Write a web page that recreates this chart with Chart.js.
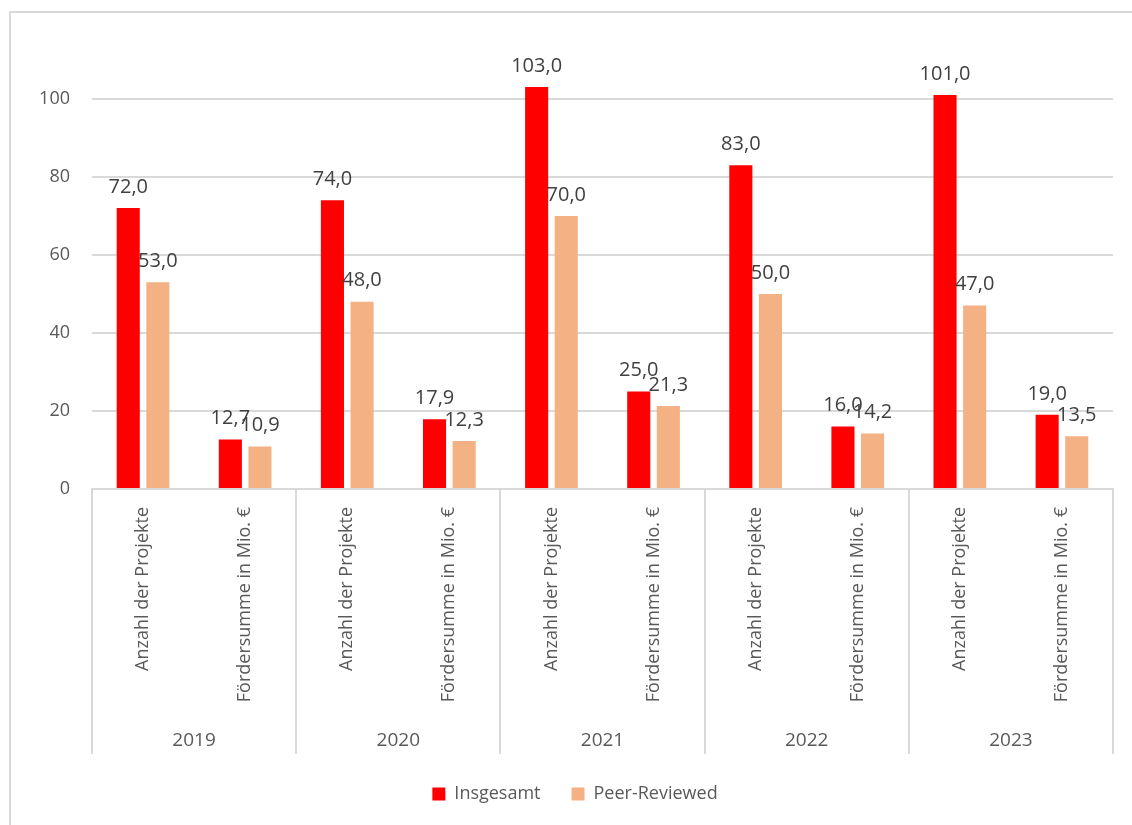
<!DOCTYPE html>
<html>
<head>
<meta charset="utf-8">
<script src="https://cdn.jsdelivr.net/npm/chart.js@4.4.1/dist/chart.umd.min.js"></script>
<style>
  html, body { margin: 0; padding: 0; background: #fff; overflow: hidden; }
  #frame { position: absolute; left: 9px; top: 11px; width: 1140px; height: 840px; border: 2px solid #d9d9d9; box-sizing: border-box; }
  #wrap { position: absolute; left: 0; top: 0; width: 1132px; height: 825px; }
</style>
</head>
<body>
<div id="frame"></div>
<div id="wrap"><canvas id="c" width="1132" height="825"></canvas></div>
<script>
const years = ['2019', '2020', '2021', '2022', '2023'];
const subCategories = ['Anzahl der Projekte', 'Fördersumme in Mio. €'];
const categories = ['Anzahl der Projekte', 'Fördersumme in Mio. €', 'Anzahl der Projekte', 'Fördersumme in Mio. €', 'Anzahl der Projekte', 'Fördersumme in Mio. €', 'Anzahl der Projekte', 'Fördersumme in Mio. €', 'Anzahl der Projekte', 'Fördersumme in Mio. €'];
const insgesamt = [72.0, 12.7, 74.0, 17.9, 103.0, 25.0, 83.0, 16.0, 101.0, 19.0];
const peerReviewed = [53.0, 10.9, 48.0, 12.3, 70.0, 21.3, 50.0, 14.2, 47.0, 13.5];
const yTicks = [0, 20, 40, 60, 80, 100];

const FONT = "'Open Sans', 'Noto Sans', sans-serif";
const GRID = '#d9d9d9';
const TEXT = '#595959';
const PAD_LEFT = 37;

const fmt = v => v.toFixed(1).replace('.', ',');

const valueLabels = {
  id: 'valueLabels',
  afterDatasetsDraw(chart) {
    const ctx = chart.ctx;
    ctx.save();
    ctx.font = '20px ' + FONT;
    ctx.fillStyle = '#404040';
    ctx.textAlign = 'center';
    ctx.textBaseline = 'bottom';
    chart.data.datasets.forEach((ds, di) => {
      const meta = chart.getDatasetMeta(di);
      meta.data.forEach((bar, i) => {
        ctx.fillText(fmt(ds.data[i]), bar.x, bar.y - 11);
      });
    });
    ctx.restore();
  }
};

const yearGroups = {
  id: 'yearGroups',
  afterDraw(chart) {
    const ctx = chart.ctx;
    const xs = chart.scales.x;
    const area = chart.chartArea;
    const catW = (area.right - area.left) / categories.length;
    const top = area.bottom;
    const bottom = xs.bottom;
    ctx.save();
    ctx.strokeStyle = GRID;
    ctx.lineWidth = 2;
    for (let k = 0; k <= years.length; k++) {
      const x = Math.round(area.left + k * subCategories.length * catW);
      ctx.beginPath();
      ctx.moveTo(x, top);
      ctx.lineTo(x, bottom);
      ctx.stroke();
    }
    ctx.font = '19px ' + FONT;
    ctx.fillStyle = TEXT;
    ctx.textAlign = 'center';
    ctx.textBaseline = 'middle';
    years.forEach((y, k) => {
      const cx = area.left + (k + 0.5) * subCategories.length * catW;
      ctx.fillText(y, cx, bottom - 13);
    });
    ctx.restore();
  }
};

new Chart(document.getElementById('c'), {
  type: 'bar',
  data: {
    labels: categories,
    datasets: [
      { label: 'Insgesamt', data: insgesamt, backgroundColor: '#ff0000', barPercentage: 0.78, categoryPercentage: 0.58 },
      { label: 'Peer-Reviewed', data: peerReviewed, backgroundColor: '#f4b183', barPercentage: 0.78, categoryPercentage: 0.58 }
    ]
  },
  options: {
    responsive: false,
    animation: false,
    devicePixelRatio: 1,
    layout: { padding: { left: PAD_LEFT, right: 19, top: 52, bottom: 12 } },
    plugins: {
      tooltip: { enabled: false },
      legend: {
        position: 'bottom',
        labels: {
          font: { family: FONT, size: 18 },
          color: TEXT,
          boxWidth: 13,
          boxHeight: 13,
          padding: 31
        }
      }
    },
    scales: {
      x: {
        grid: { display: false },
        border: { display: true, color: GRID, width: 2 },
        ticks: {
          autoSkip: false,
          maxRotation: 90,
          minRotation: 90,
          padding: 10,
          color: TEXT,
          font: { family: FONT, size: 18 }
        },
        afterFit(scale) { scale.height = 265; }
      },
      y: {
        min: 0,
        max: 112,
        afterBuildTicks(scale) { scale.ticks = yTicks.map(v => ({ value: v })); },
        grid: { color: GRID, lineWidth: 2, drawTicks: false },
        border: { display: false },
        ticks: {
          padding: 22,
          color: TEXT,
          font: { family: FONT, size: 18 }
        },
        afterFit(scale) { scale.width = 92 - PAD_LEFT; }
      }
    }
  },
  plugins: [valueLabels, yearGroups]
});
</script>
</body>
</html>
